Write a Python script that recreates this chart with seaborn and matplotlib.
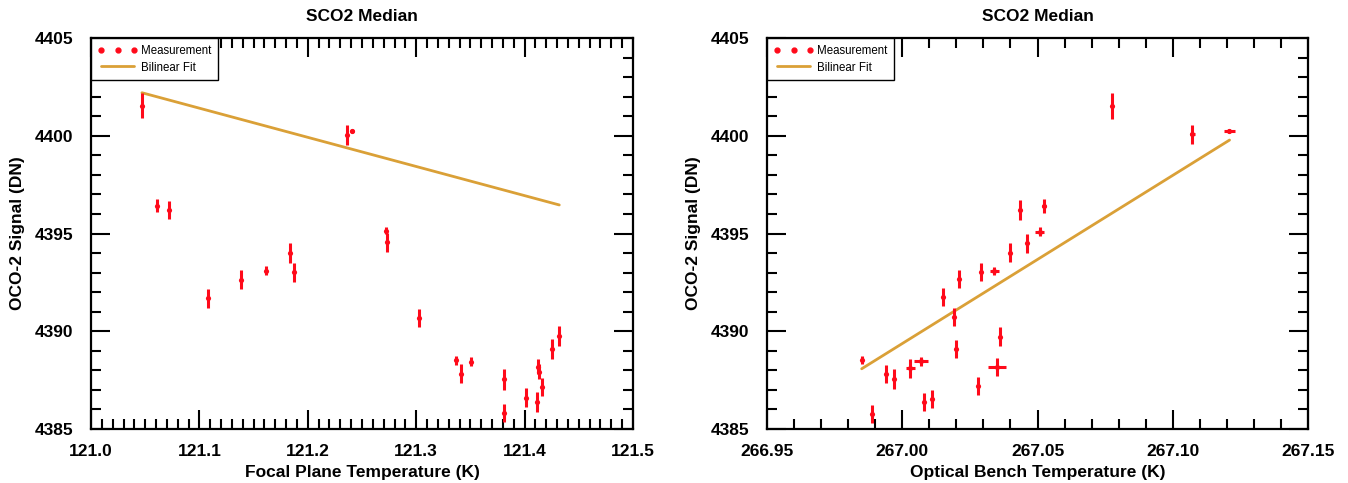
import numpy as np
import pandas as pd
import matplotlib
matplotlib.use("Agg")
import matplotlib.pyplot as plt
from matplotlib.lines import Line2D
from matplotlib.ticker import MultipleLocator, FormatStrFormatter
import seaborn as sns

# ---------------- data ----------------
fp_temp = [121.047, 121.236, 121.241, 121.061, 121.072, 121.108, 121.138, 121.161,
           121.184, 121.187, 121.272, 121.273, 121.303, 121.337, 121.341, 121.351,
           121.381, 121.381, 121.401, 121.411, 121.412, 121.413, 121.416, 121.425,
           121.432]
fp_signal = [4401.54, 4400.04, 4400.24, 4396.42, 4396.20, 4391.69, 4392.64, 4393.10,
             4394.00, 4393.01, 4395.14, 4394.55, 4390.68, 4388.51, 4387.83, 4388.43,
             4387.54, 4385.80, 4386.59, 4386.38, 4388.19, 4387.93, 4387.15, 4389.09,
             4389.76]
fp_yerr = [0.65, 0.50, 0.10, 0.34, 0.47, 0.49, 0.48, 0.23, 0.49, 0.49, 0.17, 0.50,
           0.48, 0.23, 0.47, 0.23, 0.53, 0.46, 0.49, 0.49, 0.38, 0.38, 0.46, 0.49, 0.49]
fp_xerr = [0, 0, 0.002, 0, 0, 0, 0, 0, 0, 0, 0, 0, 0, 0, 0, 0, 0, 0, 0, 0, 0, 0, 0, 0, 0]

ob_temp = [266.985, 266.989, 266.994, 266.997, 267.003, 267.007, 267.008, 267.011,
           267.015, 267.019, 267.020, 267.021, 267.028, 267.029, 267.034, 267.035,
           267.036, 267.040, 267.0435, 267.046, 267.0508, 267.0525, 267.0774, 267.1072,
           267.1209]
ob_signal = [4388.53, 4385.78, 4387.83, 4387.54, 4388.10, 4388.46, 4386.37, 4386.55,
             4391.74, 4390.71, 4389.11, 4392.66, 4387.21, 4393.05, 4393.08, 4388.19,
             4389.72, 4394.02, 4396.20, 4394.50, 4395.09, 4396.42, 4401.52, 4400.07,
             4400.26]
ob_yerr = [0.20, 0.46, 0.46, 0.51, 0.49, 0.22, 0.46, 0.46, 0.46, 0.46, 0.46, 0.46,
           0.46, 0.46, 0.20, 0.46, 0.49, 0.49, 0.49, 0.50, 0.24, 0.35, 0.68, 0.49, 0.10]
ob_xerr = [0, 0, 0, 0, 0.0017, 0.0025, 0, 0, 0, 0, 0, 0, 0, 0, 0.0017, 0.0034,
           0, 0, 0, 0, 0.0016, 0.0008, 0, 0.001, 0.002]

fp_fit_temp = [121.047, 121.432]
fp_fit_signal = [4402.20, 4396.46]
ob_fit_temp = [266.985, 267.121]
ob_fit_signal = [4388.08, 4399.78]

title = "SCO2 Median"
ylabel = "OCO-2 Signal (DN)"
fp_xlabel = "Focal Plane Temperature (K)"
ob_xlabel = "Optical Bench Temperature (K)"

# ---------------- style ----------------
sns.set_theme(style="white")
plt.rcParams['font.family'] = ['Liberation Sans', 'DejaVu Sans']
plt.rcParams['text.color'] = 'black'
plt.rcParams['axes.labelcolor'] = 'black'
plt.rcParams['xtick.color'] = 'black'
plt.rcParams['ytick.color'] = 'black'

RED = "#ff0a1a"
GOLD = "#daa037"

fig = plt.figure(figsize=(13.48, 4.83), dpi=100)
ax1 = fig.add_axes([91/1348, 54/483, 542/1348, 391/483])
ax2 = fig.add_axes([767/1348, 54/483, 541/1348, 391/483])


def draw(ax, t, s, xe, ye, ft, fs, xlabel, xlim, xmaj, xfmt):
    df = pd.DataFrame({"T": t, "S": s})
    fit = pd.DataFrame({"T": ft, "S": fs})
    sns.lineplot(data=fit, x="T", y="S", ax=ax, color=GOLD, lw=2.0, zorder=2)
    ax.errorbar(t, s, yerr=ye, xerr=xe, fmt="none", ecolor=RED, elinewidth=2.2,
                capsize=0, zorder=3)
    sns.scatterplot(data=df, x="T", y="S", ax=ax, color=RED, s=14, edgecolor=RED,
                    linewidth=0, zorder=4)
    ax.set_xlim(*xlim)
    ax.set_ylim(4385, 4405)
    ax.xaxis.set_major_locator(MultipleLocator(xmaj))
    ax.xaxis.set_minor_locator(MultipleLocator(0.01))
    ax.xaxis.set_major_formatter(FormatStrFormatter(xfmt))
    ax.yaxis.set_major_locator(MultipleLocator(5))
    ax.yaxis.set_minor_locator(MultipleLocator(1))
    ax.tick_params(which="both", direction="in", top=True, right=True,
                   bottom=True, left=True, color="black", width=1.5,
                   labelcolor="black")
    ax.tick_params(which="major", length=14)
    ax.tick_params(which="minor", length=7)
    ax.tick_params(axis="y", which="major", pad=13, labelsize=12.5)
    ax.tick_params(axis="x", which="major", pad=11, labelsize=12.5)
    for lab in ax.get_xticklabels() + ax.get_yticklabels():
        lab.set_fontweight("bold")
    for sp in ax.spines.values():
        sp.set_visible(True)
        sp.set_color("black")
        sp.set_linewidth(1.6)
    ax.set_title(title, fontsize=12.5, fontweight="bold", pad=12, color="black")
    ax.set_xlabel(xlabel, fontsize=12.5, fontweight="bold", labelpad=4, color="black")
    ax.set_ylabel(ylabel, fontsize=12.5, fontweight="bold", labelpad=7, color="black")
    handles = [Line2D([], [], color=RED, marker="o", linestyle="none", markersize=3.5),
               Line2D([], [], color=GOLD, lw=2.0)]
    leg = ax.legend(handles, ["Measurement", "Bilinear Fit"], loc="upper left",
                    borderaxespad=0, numpoints=3, fontsize=8.3, handlelength=3.4,
                    handletextpad=0.3, fancybox=False, framealpha=1,
                    borderpad=0.6, labelspacing=0.4)
    leg.get_frame().set_edgecolor("black")
    leg.get_frame().set_linewidth(1.0)
    for txt in leg.get_texts():
        txt.set_color("black")


draw(ax1, fp_temp, fp_signal, fp_xerr, fp_yerr, fp_fit_temp, fp_fit_signal,
     fp_xlabel, (121.0, 121.5), 0.1, "%.1f")
draw(ax2, ob_temp, ob_signal, ob_xerr, ob_yerr, ob_fit_temp, ob_fit_signal,
     ob_xlabel, (266.95, 267.15), 0.05, "%.2f")

fig.savefig("out.png", dpi=100)
